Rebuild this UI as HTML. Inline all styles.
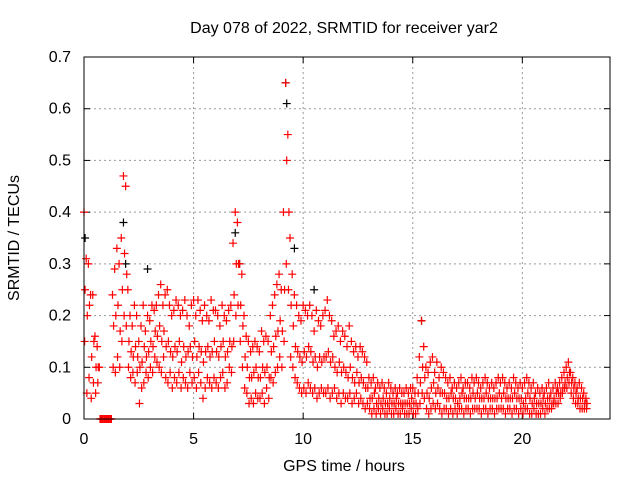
<!DOCTYPE html>
<html><head><meta charset="utf-8"><style>
body{margin:0;background:#fff;}
svg{display:block;font-family:"Liberation Sans",sans-serif;}
</style></head><body>
<svg id="chart" width="640" height="480" viewBox="0 0 640 480">
<rect width="640" height="480" fill="#fff"/>
<text x="344" y="33" font-size="16" text-anchor="middle">Day 078 of 2022, SRMTID for receiver yar2</text>
<text transform="translate(19,238) rotate(-90)" font-size="16" text-anchor="middle">SRMTID / TECUs</text>
<text x="344" y="471" font-size="16" text-anchor="middle">GPS time / hours</text>
<g id="grid"></g>
<g id="ticks"></g>
<g id="marks"></g>
<rect x="84" y="57" width="526" height="362" fill="none" stroke="#000" stroke-width="1"/>
</svg>
<script>
const yTicks=[0,0.1,0.2,0.3,0.4,0.5,0.6,0.7];
const yTickLabels=["0","0.1","0.2","0.3","0.4","0.5","0.6","0.7"];
const xTicks=[0,5,10,15,20];
const xTickLabels=["0","5","10","15","20"];
const hiVals=[0.40,0.31,0.30,0.24,0.24,0.16,0.14,0.10,0.00,0.00,
0.00,0.00,0.00,0.24,0.29,0.33,0.30,0.35,0.47,0.45,
0.25,0.20,0.18,0.22,0.20,0.15,0.18,0.22,0.17,0.20,
0.19,0.22,0.21,0.22,0.24,0.26,0.22,0.24,0.25,0.22,
0.20,0.21,0.23,0.22,0.20,0.21,0.23,0.20,0.18,0.22,
0.23,0.20,0.23,0.21,0.19,0.22,0.20,0.19,0.23,0.21,
0.21,0.20,0.18,0.22,0.20,0.19,0.21,0.22,0.34,0.40,
0.38,0.30,0.28,0.20,0.16,0.15,0.13,0.14,0.15,0.14,
0.13,0.17,0.15,0.16,0.15,0.20,0.22,0.24,0.26,0.28,
0.25,0.40,0.65,0.55,0.35,0.28,0.24,0.22,0.20,0.19,
0.22,0.21,0.20,0.22,0.20,0.17,0.21,0.19,0.18,0.20,
0.21,0.23,0.20,0.19,0.16,0.17,0.18,0.15,0.17,0.16,
0.14,0.18,0.15,0.13,0.14,0.12,0.14,0.13,0.12,0.11,
0.08,0.07,0.08,0.06,0.07,0.06,0.07,0.06,0.05,0.07,
0.06,0.05,0.06,0.05,0.06,0.05,0.05,0.06,0.05,0.06,
0.06,0.05,0.08,0.12,0.19,0.14,0.10,0.09,0.11,0.12,
0.09,0.11,0.08,0.10,0.09,0.08,0.07,0.08,0.06,0.07,
0.06,0.07,0.08,0.06,0.07,0.07,0.06,0.08,0.07,0.08,
0.07,0.06,0.07,0.08,0.07,0.06,0.07,0.06,0.07,0.08,
0.07,0.08,0.07,0.06,0.07,0.06,0.08,0.07,0.06,0.07,
0.06,0.07,0.08,0.07,0.06,0.07,0.05,0.06,0.05,0.06,
0.05,0.06,0.07,0.05,0.06,0.07,0.06,0.07,0.08,0.09,
0.10,0.11,0.09,0.08,0.07,0.06,0.07,0.06,0.05,0.04];
const midVals=[0.25,0.20,0.22,0.12,0.15,0.10,0.10,0.00,0.00,0.00,
0.00,0.00,0.00,0.18,0.20,0.22,0.17,0.25,0.32,0.28,
0.15,0.13,0.12,0.14,0.12,0.10,0.11,0.14,0.12,0.13,
0.15,0.14,0.17,0.16,0.18,0.15,0.17,0.14,0.15,0.13,
0.12,0.14,0.13,0.15,0.11,0.14,0.12,0.13,0.14,0.12,
0.15,0.12,0.14,0.13,0.11,0.13,0.14,0.12,0.13,0.15,
0.13,0.12,0.14,0.15,0.12,0.13,0.15,0.14,0.24,0.30,
0.30,0.22,0.18,0.12,0.10,0.08,0.08,0.09,0.10,0.08,
0.08,0.10,0.09,0.10,0.08,0.13,0.14,0.16,0.17,0.19,
0.17,0.25,0.50,0.40,0.22,0.18,0.14,0.13,0.12,0.11,
0.13,0.12,0.14,0.13,0.11,0.12,0.10,0.12,0.11,0.12,
0.12,0.13,0.11,0.12,0.10,0.09,0.11,0.09,0.10,0.09,
0.08,0.10,0.08,0.07,0.09,0.07,0.08,0.07,0.06,0.06,
0.04,0.04,0.05,0.03,0.04,0.03,0.04,0.03,0.03,0.04,
0.03,0.03,0.04,0.03,0.03,0.03,0.03,0.03,0.03,0.04,
0.03,0.03,0.05,0.07,0.10,0.08,0.05,0.04,0.06,0.07,
0.05,0.06,0.05,0.05,0.05,0.04,0.04,0.05,0.04,0.04,
0.03,0.04,0.05,0.04,0.04,0.04,0.04,0.05,0.04,0.05,
0.04,0.04,0.04,0.05,0.04,0.04,0.04,0.04,0.04,0.05,
0.04,0.05,0.04,0.04,0.04,0.04,0.05,0.04,0.04,0.04,
0.03,0.04,0.05,0.04,0.03,0.04,0.03,0.03,0.03,0.04,
0.03,0.04,0.04,0.03,0.04,0.05,0.05,0.05,0.06,0.07,
0.08,0.09,0.07,0.06,0.05,0.04,0.04,0.04,0.03,0.03];
const loVals=[0.15,0.05,0.08,0.04,0.07,0.05,0.07,0.00,0.00,0.00,
0.00,0.00,0.00,0.10,0.09,0.12,0.10,0.15,0.20,0.18,
0.10,0.08,0.09,0.07,0.09,0.03,0.06,0.07,0.09,0.08,
0.10,0.09,0.12,0.11,0.10,0.09,0.12,0.08,0.07,0.09,
0.06,0.08,0.07,0.09,0.06,0.08,0.07,0.06,0.09,0.07,
0.08,0.06,0.09,0.07,0.04,0.06,0.08,0.07,0.06,0.08,
0.07,0.06,0.08,0.09,0.06,0.07,0.10,0.09,0.15,0.20,
0.22,0.15,0.10,0.06,0.05,0.03,0.04,0.03,0.05,0.04,
0.04,0.05,0.03,0.06,0.04,0.08,0.07,0.09,0.10,0.12,
0.10,0.15,0.30,0.25,0.12,0.10,0.08,0.07,0.06,0.05,
0.06,0.05,0.07,0.06,0.05,0.06,0.04,0.05,0.06,0.05,
0.05,0.06,0.04,0.05,0.06,0.04,0.05,0.03,0.05,0.04,
0.04,0.05,0.03,0.04,0.05,0.03,0.04,0.03,0.02,0.03,
0.02,0.01,0.02,0.01,0.02,0.01,0.02,0.01,0.01,0.02,
0.01,0.01,0.02,0.01,0.01,0.02,0.01,0.01,0.01,0.02,
0.01,0.01,0.02,0.03,0.05,0.04,0.02,0.01,0.02,0.03,
0.02,0.03,0.02,0.01,0.02,0.02,0.01,0.02,0.01,0.02,
0.01,0.02,0.02,0.01,0.02,0.02,0.01,0.02,0.02,0.02,
0.02,0.01,0.02,0.02,0.01,0.02,0.02,0.01,0.02,0.02,
0.02,0.02,0.01,0.02,0.02,0.01,0.02,0.02,0.01,0.02,
0.01,0.02,0.02,0.01,0.01,0.02,0.01,0.01,0.01,0.02,
0.01,0.02,0.02,0.02,0.03,0.03,0.03,0.04,0.05,0.06,
0.06,0.07,0.05,0.04,0.03,0.03,0.02,0.02,0.02,0.02];
const blackTimes=[0.05,1.8,1.9,2.9,6.9,7.1,9.2,9.25,9.6,15.4,10.5];
const blackVals=[0.35,0.38,0.30,0.29,0.36,0.30,0.65,0.61,0.33,0.19,0.25];

const X0=84,X1=610,Y0=419,Y1=57,XMAX=24,YMAX=0.7;
const xs=t=>X0+(X1-X0)*t/XMAX;
const ys=v=>Y0-(Y0-Y1)*v/YMAX;
const NS="http://www.w3.org/2000/svg";
const grid=document.getElementById('grid'),ticks=document.getElementById('ticks'),marks=document.getElementById('marks');
function mk(tag,attrs,parent){const e=document.createElementNS(NS,tag);for(const k in attrs)e.setAttribute(k,attrs[k]);parent.appendChild(e);return e;}
yTicks.forEach((v,i)=>{
  const y=ys(v);
  if(i>0&&i<yTicks.length-1){const g=mk('line',{x1:X0,x2:X1,y1:y,y2:y,stroke:'#999','stroke-dasharray':'2,3'},grid);
  
  }
  mk('line',{x1:X0,x2:X0+6,y1:y,y2:y,stroke:'#000'},ticks);
  mk('line',{x1:X1,x2:X1-6,y1:y,y2:y,stroke:'#000'},ticks);
  const t=mk('text',{x:X0-13,y:y+5,'font-size':16,'text-anchor':'end'},ticks);
  t.textContent=yTickLabels[i];
  
  
});
xTicks.forEach((v,i)=>{
  const x=xs(v);
  if(i>0){const g=mk('line',{x1:x,x2:x,y1:Y0,y2:Y1,stroke:'#999','stroke-dasharray':'2,3'},grid);
  
  }
  mk('line',{x1:x,x2:x,y1:Y0,y2:Y0-6,stroke:'#000'},ticks);
  mk('line',{x1:x,x2:x,y1:Y1,y2:Y1+6,stroke:'#000'},ticks);
  const t=mk('text',{x:x,y:Y0+25,'font-size':16,'text-anchor':'middle'},ticks);
  t.textContent=xTickLabels[i];
  
  
});
function plus(t,v,color,name){
  const x=xs(t),y=ys(v);
  const p=mk('path',{d:`M${x-4},${y}H${x+4}M${x},${y-4}V${y+4}`,stroke:color,'stroke-width':1.2,fill:'none'},marks);
  
  
}
blackTimes.forEach((t,i)=>plus(t,blackVals[i],'#000','black-point'));
hiVals.forEach((v,i)=>{
  const t=i/10;
  plus(t,v,'#f00','srmtid-point');
  plus(t+0.05,midVals[i],'#f00','srmtid-point');
  plus(t+0.03,loVals[i],'#f00','srmtid-point');
});
</script>
</body></html>
